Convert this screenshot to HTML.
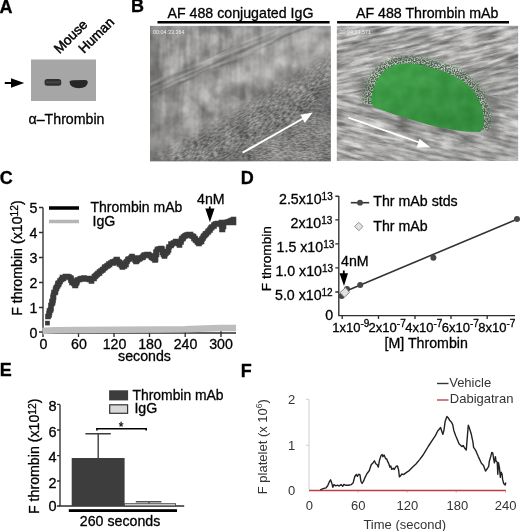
<!DOCTYPE html>
<html><head><meta charset="utf-8">
<style>
html,body{margin:0;padding:0;background:#fff;}
body{width:520px;height:531px;overflow:hidden;position:relative;font-family:"Liberation Sans",sans-serif;}
svg{position:absolute;left:0;top:0;filter:blur(0.35px);}
text{font-family:"Liberation Sans",sans-serif;stroke:#000;stroke-width:0.3px;}
text.n{stroke:none;}
text.h{stroke-width:0.5px;}
.L{font-weight:bold;font-size:18px;fill:#000;}
</style></head><body>
<svg width="520" height="531" viewBox="0 0 520 531">
<defs>
  <filter id="mot" x="0" y="0" width="100%" height="100%" color-interpolation-filters="sRGB">
    <feTurbulence type="fractalNoise" baseFrequency="0.06" numOctaves="3" seed="4"/>
    <feColorMatrix type="matrix" values="2 0 0 0 -0.5  2 0 0 0 -0.5  2 0 0 0 -0.5  0 0 0 0 1"/>
  </filter>
  <filter id="nz3" x="0" y="0" width="100%" height="100%" color-interpolation-filters="sRGB">
    <feTurbulence type="fractalNoise" baseFrequency="0.25 0.7" numOctaves="2" seed="9"/>
    <feColorMatrix type="matrix" values="2.5 0 0 0 -0.75  2.5 0 0 0 -0.75  2.5 0 0 0 -0.75  0 0 0 0 1"/>
  </filter>
  <filter id="nz4" x="0" y="0" width="100%" height="100%" color-interpolation-filters="sRGB">
    <feTurbulence type="fractalNoise" baseFrequency="0.08" numOctaves="2" seed="2"/>
    <feColorMatrix type="matrix" values="1 0 0 0 0  1 0 0 0 0  1 0 0 0 0  0 0 0 0 1"/>
    <feComposite operator="in" in2="SourceAlpha"/>
  </filter>
  
  <filter id="vst" x="0" y="0" width="100%" height="100%" color-interpolation-filters="sRGB">
    <feTurbulence type="fractalNoise" baseFrequency="0.16 0.025" numOctaves="2" seed="5"/>
    <feColorMatrix type="matrix" values="2 0 0 0 -0.5  2 0 0 0 -0.5  2 0 0 0 -0.5  0 0 0 0 1"/>
  </filter>
  <filter id="spk" x="0" y="0" width="100%" height="100%" color-interpolation-filters="sRGB">
    <feTurbulence type="fractalNoise" baseFrequency="0.7" numOctaves="1" seed="8"/>
    <feColorMatrix type="matrix" values="0 0 0 0 0.22  0 0 0 0 0.34  0 0 0 0 0.23  5 0 0 0 -2.0"/>
    <feComposite operator="in" in2="SourceAlpha"/>
  </filter>
  <filter id="spk2" x="0" y="0" width="100%" height="100%" color-interpolation-filters="sRGB">
    <feTurbulence type="fractalNoise" baseFrequency="0.7" numOctaves="1" seed="8"/>
    <feColorMatrix type="matrix" values="0 0 0 0 0.22  0 0 0 0 0.34  0 0 0 0 0.23  5 0 0 0 -2.0"/>
  </filter>
  <linearGradient id="mgTL" x1="0" y1="0" x2="1" y2="1">
    <stop offset="0" stop-color="#fff" stop-opacity="1"/>
    <stop offset="0.5" stop-color="#fff" stop-opacity="0.6"/>
    <stop offset="0.8" stop-color="#fff" stop-opacity="0"/>
  </linearGradient>
  <mask id="mkTL" maskContentUnits="objectBoundingBox"><rect x="0" y="0" width="1" height="1" fill="url(#mgTL)"/></mask>
  <filter id="bl12"><feGaussianBlur stdDeviation="1.1"/></filter>
  <filter id="bl1"><feGaussianBlur stdDeviation="0.7"/></filter>
  <filter id="bl6" x="-20%" y="-50%" width="140%" height="200%"><feGaussianBlur stdDeviation="7"/></filter>
  <linearGradient id="mg1" x1="0" y1="0" x2="0" y2="1">
    <stop offset="0" stop-color="#fff" stop-opacity="0"/>
    <stop offset="0.35" stop-color="#fff" stop-opacity="1"/>
    <stop offset="0.7" stop-color="#fff" stop-opacity="1"/>
    <stop offset="1" stop-color="#fff" stop-opacity="0"/>
  </linearGradient>
  <mask id="mkBR" maskUnits="userSpaceOnUse" x="140" y="50" width="200" height="120"><polygon points="205,170 345,88 345,170" fill="#fff" filter="url(#bl6)"/></mask>
  <mask id="mkHalo" maskUnits="userSpaceOnUse" x="340" y="35" width="170" height="115"><path d="M363,104 C363,86 369,74 378,66 C386,59 395,56 404,56 C418,55 430,59 440,62 C456,66 470,74 478,84 C487,95 491,108 491,120 C491,128 489,134 484,137 C468,136 455,133 440,129 C420,124 395,117 365,110 Z" fill="#fff" filter="url(#bl2)"/></mask>
  <mask id="mk1" maskContentUnits="objectBoundingBox"><rect x="0" y="0" width="1" height="1" fill="url(#mg1)"/></mask>
  <filter id="nz1" x="0" y="0" width="100%" height="100%" color-interpolation-filters="sRGB">
    <feTurbulence type="fractalNoise" baseFrequency="0.03 0.28" numOctaves="4" seed="7"/>
    <feColorMatrix type="matrix" values="1.6 0 0 0 -0.3  1.6 0 0 0 -0.3  1.6 0 0 0 -0.3  0 0 0 0 1"/>
  </filter>
  <filter id="nz2" x="0" y="0" width="100%" height="100%" color-interpolation-filters="sRGB">
    <feTurbulence type="fractalNoise" baseFrequency="0.045 0.3" numOctaves="4" seed="11"/>
    <feColorMatrix type="matrix" values="1.7 0 0 0 -0.2  1.7 0 0 0 -0.2  1.7 0 0 0 -0.2  0 0 0 0 1"/>
  </filter>
  <filter id="nz2b" x="0" y="0" width="100%" height="100%" color-interpolation-filters="sRGB">
    <feTurbulence type="fractalNoise" baseFrequency="0.045 0.3" numOctaves="4" seed="13"/>
    <feColorMatrix type="matrix" values="1.7 0 0 0 -0.2  1.7 0 0 0 -0.2  1.7 0 0 0 -0.2  0 0 0 0 1"/>
  </filter>
  <filter id="bl4"><feGaussianBlur stdDeviation="4"/></filter>
  <filter id="bl2"><feGaussianBlur stdDeviation="2"/></filter>
  <linearGradient id="gl1" x1="0" y1="0" x2="1" y2="0">
    <stop offset="0" stop-color="#555" stop-opacity="0.35"/>
    <stop offset="0.12" stop-color="#555" stop-opacity="0"/>
  </linearGradient>
  <linearGradient id="gl2" x1="0" y1="1" x2="0.6" y2="0">
    <stop offset="0.35" stop-color="#fff" stop-opacity="0"/>
    <stop offset="0.5" stop-color="#fff" stop-opacity="0.12"/>
    <stop offset="0.6" stop-color="#333" stop-opacity="0.15"/>
    <stop offset="0.75" stop-color="#fff" stop-opacity="0"/>
  </linearGradient>
  <linearGradient id="gg" x1="0.1" y1="0" x2="0.7" y2="1">
    <stop offset="0" stop-color="#3aa443"/>
    <stop offset="1" stop-color="#2c8c36"/>
  </linearGradient>
  <filter id="tex1" x="0" y="0" width="100%" height="100%">
    <feTurbulence type="fractalNoise" baseFrequency="0.12 0.35" numOctaves="3" seed="3" result="n"/>
    <feColorMatrix type="matrix" values="0.33 0.33 0.33 0 0  0.33 0.33 0.33 0 0  0.33 0.33 0.33 0 0  0 0 0 0 1" result="g"/>
  </filter>
</defs>

<!-- ================= Panel A ================= -->
<text class="L" x="-0.5" y="12.5">A</text>
<g font-size="13.6" fill="#000">
  <text class="h" transform="translate(59.5,54.2) rotate(-45)">Mouse</text>
  <text class="h" transform="translate(84,54) rotate(-45)">Human</text>
</g>
<rect x="31" y="59.5" width="65" height="41.5" fill="#a6a6a6"/>
<rect x="44.6" y="79" width="16.6" height="6.8" rx="2.5" fill="#303030"/>
<rect x="46" y="81.3" width="14" height="2" fill="#555" opacity="0.6"/>
<path d="M69.5,82 Q69.5,80.2 73,80.2 L85,80 Q88,80 87.8,82.5 Q87,88.2 79,88.2 Q70,88 69.5,82 Z" fill="#262626"/>
<line x1="4.8" y1="83" x2="12" y2="83" stroke="#000" stroke-width="2"/>
<polygon points="11,78.3 24.2,83 11,87.7" fill="#000"/>
<text x="28.5" y="123.5" font-size="14.2">α–Thrombin</text>

<!-- ================= Panel B ================= -->
<text class="L" x="131" y="12.3">B</text>
<text x="167.5" y="18" font-size="14.2">AF 488 conjugated IgG</text>
<text x="356" y="18" font-size="14.2">AF 488 Thrombin mAb</text>
<rect x="157.5" y="21" width="172.1" height="2.5" fill="#000"/>
<rect x="337.1" y="21" width="171.9" height="2.5" fill="#000"/>
<!-- left image -->
<clipPath id="cl"><rect x="150" y="25.8" width="180.8" height="135.4"/></clipPath>
<clipPath id="chalo"><polygon points="350,104 372,104 478,131 500,131 500,40 350,40"/></clipPath>
<clipPath id="cru"><polygon points="330,20 525,20 525,95 330,95"/></clipPath>
<clipPath id="crl"><polygon points="330,95 525,95 525,170 330,170"/></clipPath>
<clipPath id="cr"><rect x="336.8" y="25.8" width="181.3" height="135.2"/></clipPath>
<g clip-path="url(#cl)" style="stroke:none">
  <rect x="150" y="25.8" width="181" height="136" fill="#a2a19e"/>
  <rect x="150" y="25.8" width="181" height="136" filter="url(#mot)" opacity="0.25"/>
  <rect x="150" y="25.8" width="181" height="136" filter="url(#vst)" opacity="0.16" mask="url(#mkTL)"/>
  <!-- lighter top-right -->
  <polygon points="235,20 340,20 340,72 250,88" fill="#fff" opacity="0.13" filter="url(#bl6)"/>
  <!-- lighter band below striation -->
  <polygon points="140,108 300,40 330,40 150,128" fill="#fff" opacity="0.10" filter="url(#bl4)"/>
  <!-- dark lower-right -->
  <polygon points="200,170 340,80 340,170" fill="#4c4c4c" opacity="0.22" filter="url(#bl6)"/>
  <rect x="150" y="60" width="185" height="105" filter="url(#nz3)" opacity="0.18" mask="url(#mkBR)"/>
  <g transform="rotate(-30 268 112)">
    <rect x="140" y="96" width="270" height="40" fill="#4a4a4a" opacity="0.3" filter="url(#bl6)"/>
    <rect x="140" y="86" width="270" height="60" filter="url(#nz3)" opacity="0.25" mask="url(#mk1)"/>
  </g>
  <rect x="318" y="85" width="16" height="45" fill="#444" opacity="0.3" filter="url(#bl4)"/>
  <!-- striation band -->
  <g transform="rotate(-23.5 150 90)" filter="url(#bl12)" opacity="0.85">
    <rect x="120" y="84.5" width="240" height="1.4" fill="#e0e0e0" opacity="0.5"/>
    <rect x="120" y="86.3" width="240" height="1.8" fill="#5f5f5f" opacity="0.45"/>
    <rect x="120" y="88.6" width="240" height="1.2" fill="#e4e4e4" opacity="0.5"/>
    <rect x="120" y="90.2" width="240" height="2" fill="#5a5a5a" opacity="0.5"/>
    <rect x="120" y="92.7" width="240" height="1.3" fill="#d8d8d8" opacity="0.45"/>
    <rect x="120" y="94.3" width="240" height="1.5" fill="#666" opacity="0.35"/>
  </g>
  <g transform="rotate(-23.5 150 90)"><rect x="120" y="83" width="240" height="14" filter="url(#nz1)" opacity="0.22"/></g>
  <rect x="150" y="25.8" width="181" height="136" fill="url(#gl1)"/>
  <rect x="150" y="159.8" width="181" height="1.5" fill="#666" opacity="0.5"/>
  <line x1="242.6" y1="152.7" x2="303" y2="118.5" stroke="#fff" stroke-width="2"/>
  <polygon points="312.7,112.4 300.4,114.7 304.8,122.9" fill="#fff"/>
  <text class="n" x="153.1" y="34.3" font-size="5.4" fill="#f0f0f0">00:04:33.364</text>
</g>
<!-- right image -->
<g clip-path="url(#cr)" style="stroke:none">
  <rect x="336.8" y="25.8" width="182" height="136" fill="#bcbbb9"/>
  <rect x="336.8" y="25.8" width="182" height="136" filter="url(#mot)" opacity="0.18"/>
  <g clip-path="url(#cru)"><g transform="rotate(-12 428 93)"><rect x="300" y="-40" width="260" height="270" filter="url(#nz2)" opacity="0.42"/></g></g>
  <g clip-path="url(#crl)"><g transform="rotate(12 428 93)"><rect x="300" y="-40" width="260" height="270" filter="url(#nz2b)" opacity="0.42"/></g></g>
  <!-- dark arc band top-left -->
  <path d="M334,57 Q365,44 392,40 Q412,37 430,36" stroke="#666" stroke-width="7" fill="none" opacity="0.35" filter="url(#bl2)"/>
  <!-- dark diagonal top-right -->
  <path d="M462,76 L520,55" stroke="#555" stroke-width="3" fill="none" opacity="0.45" filter="url(#bl1)"/>
  <polygon points="462,78 520,58 520,100 480,100" fill="#666" opacity="0.18" filter="url(#bl4)"/>
  <!-- dark bottom right texture -->
  <polygon points="485,95 498,95 498,140 485,140" fill="#555" opacity="0.35" filter="url(#bl2)"/>
  <polygon points="380,150 520,135 520,165 380,165" fill="#777" opacity="0.15" filter="url(#bl4)"/>
  <!-- shadow under blob -->
  <path d="M358,111 C380,118 420,129 478,137" stroke="#4a4a4a" stroke-width="4" fill="none" opacity="0.5" filter="url(#bl2)"/>
  <!-- halo -->
  <g clip-path="url(#chalo)">
  <path d="M363,104 C363,86 369,74 378,66 C386,59 395,56 404,56 C418,55 430,59 440,62 C456,66 470,74 478,84 C487,95 491,108 491,120 C491,128 489,134 484,137 C468,136 455,133 440,129 C420,124 395,117 365,110 Z" fill="#b0bcad" opacity="0.45" filter="url(#bl2)"/>
  <rect x="350" y="40" width="150" height="105" fill="#000" filter="url(#spk2)" opacity="0.85" mask="url(#mkHalo)"/>
  </g>
  <path d="M371,102 C372,89 376,79 383,72 C389,66 396,64 404,63.5 C416,63 426,66 436,69 C450,73 462,79 471,88 C479,97 483,107 484,118 C484.5,124 483.5,129 480,132 C468,132 455,130.5 440,127.5 C420,123 395,114.5 374,107.5 Z" fill="url(#gg)"/>
  <path d="M371,102 C372,89 376,79 383,72 C389,66 396,64 404,63.5 C416,63 426,66 436,69 C450,73 462,79 471,88 C479,97 483,107 484,118 C484.5,124 483.5,129 480,132 C468,132 455,130.5 440,127.5 C420,123 395,114.5 374,107.5 Z" filter="url(#nz4)" opacity="0.1"/>
  <line x1="348.4" y1="117.6" x2="422" y2="143.5" stroke="#fff" stroke-width="1.8"/>
  <polygon points="430.6,147.4 419.5,138.8 416.6,147.6" fill="#fff"/>
  <text class="n" x="339.5" y="34.3" font-size="5.4" fill="#f0f0f0">00:04:33.571</text>
</g>

<!-- ================= Panel C ================= -->
<text class="L" x="-0.3" y="183.8">C</text>
<g stroke="#2e2e2e" stroke-width="1.35" fill="none">
  <path d="M43,207.5 V337 M43,333 H236"/>
  <path d="M39,207.5 H43 M39,232.5 H43 M39,257.5 H43 M39,282.5 H43 M39,307.5 H43 M39,332 H43"/>
  <path d="M78.5,331 V337 M114,331 V337 M149.5,331 V337 M185.2,331 V337 M221,331 V337"/>
</g>
<g font-size="14.2" text-anchor="end">
  <text x="37.3" y="212.8">5</text>
  <text x="37.3" y="237.8">4</text>
  <text x="37.3" y="262.8">3</text>
  <text x="37.3" y="287.8">2</text>
  <text x="37.3" y="312.8">1</text>
  <text x="37.3" y="337.5">0</text>
</g>
<g font-size="14.2" text-anchor="middle">
  <text x="43.5" y="349">0</text>
  <text x="79" y="349">60</text>
  <text x="114.5" y="349">120</text>
  <text x="150" y="349">180</text>
  <text x="185.5" y="349">240</text>
  <text x="221" y="349">300</text>
  <text x="144.5" y="361">seconds</text>
</g>
<text transform="translate(21.5,315.8) rotate(-90)" font-size="14.2">F thrombin (x10<tspan font-size="10.2" dy="-3.8">12</tspan><tspan dy="3.8">)</tspan></text>
<!-- legend -->
<line x1="49" y1="208" x2="79" y2="208" stroke="#000" stroke-width="3.5"/>
<line x1="49" y1="221.5" x2="79" y2="221.5" stroke="#b5b5b5" stroke-width="3.5"/>
<text x="90.5" y="212.3" font-size="14">Thrombin mAb</text>
<text x="92.5" y="225.8" font-size="14.2">IgG</text>
<!-- IgG trace -->
<path d="M42.5,331 C46,330.6 50,330.2 56,330.2 L80,330 L120,329.8 L160,329.5 L185,329.3 L205,328.5 L220,328 L236,328" stroke="#bdbdbd" stroke-width="6.5" fill="none"/>
<!-- mAb trace -->
<rect x="45.1" y="320.8" width="4.7" height="4.6" fill="#3a3a3a"/>
<path fill="#3a3a3a" d="M45.2 313.7h5.6v5.6h-5.6zM46.2 312.2h5.6v5.6h-5.6zM46.7 309.7h5.6v5.6h-5.6zM46.2 310.7h5.6v5.6h-5.6zM46.7 308.2h5.6v5.6h-5.6zM47.7 307.2h5.6v5.6h-5.6zM48.2 305.7h5.6v5.6h-5.6zM48.2 303.7h5.6v5.6h-5.6zM48.2 304.7h5.6v5.6h-5.6zM48.2 302.7h5.6v5.6h-5.6zM49.2 300.7h5.6v5.6h-5.6zM49.7 299.7h5.6v5.6h-5.6zM49.2 298.7h5.6v5.6h-5.6zM50.2 297.7h5.6v5.6h-5.6zM50.2 296.2h5.6v5.6h-5.6zM50.7 294.7h5.6v5.6h-5.6zM50.2 294.7h5.6v5.6h-5.6zM50.7 292.7h5.6v5.6h-5.6zM52.2 289.7h5.6v5.6h-5.6zM51.2 289.7h5.6v5.6h-5.6zM52.7 288.7h5.6v5.6h-5.6zM52.7 287.2h5.6v5.6h-5.6zM53.2 285.7h5.6v5.6h-5.6zM53.7 284.7h5.6v5.6h-5.6zM53.7 285.2h5.6v5.6h-5.6zM54.7 283.2h5.6v5.6h-5.6zM55.7 281.7h5.6v5.6h-5.6zM55.2 280.7h5.6v5.6h-5.6zM56.2 280.2h5.6v5.6h-5.6zM57.2 278.7h5.6v5.6h-5.6zM57.2 278.2h5.6v5.6h-5.6zM58.7 276.7h5.6v5.6h-5.6zM59.7 274.7h5.6v5.6h-5.6zM60.2 275.7h5.6v5.6h-5.6zM60.7 275.2h5.6v5.6h-5.6zM62.7 273.7h5.6v5.6h-5.6zM64.2 274.2h5.6v5.6h-5.6zM64.7 273.7h5.6v5.6h-5.6zM66.2 274.2h5.6v5.6h-5.6zM67.7 275.2h5.6v5.6h-5.6zM68.2 275.7h5.6v5.6h-5.6zM68.2 277.2h5.6v5.6h-5.6zM68.7 277.7h5.6v5.6h-5.6zM69.7 279.2h5.6v5.6h-5.6zM69.2 279.7h5.6v5.6h-5.6zM71.2 280.7h5.6v5.6h-5.6zM72.2 282.7h5.6v5.6h-5.6zM72.7 282.7h5.6v5.6h-5.6zM73.7 280.2h5.6v5.6h-5.6zM74.2 278.7h5.6v5.6h-5.6zM74.7 277.2h5.6v5.6h-5.6zM76.7 276.7h5.6v5.6h-5.6zM77.7 276.2h5.6v5.6h-5.6zM78.7 275.7h5.6v5.6h-5.6zM79.7 275.7h5.6v5.6h-5.6zM81.2 275.2h5.6v5.6h-5.6zM83.2 276.2h5.6v5.6h-5.6zM84.7 276.2h5.6v5.6h-5.6zM85.2 275.7h5.6v5.6h-5.6zM86.7 276.7h5.6v5.6h-5.6zM88.7 277.7h5.6v5.6h-5.6zM88.7 278.2h5.6v5.6h-5.6zM89.2 275.7h5.6v5.6h-5.6zM91.2 275.7h5.6v5.6h-5.6zM91.7 273.7h5.6v5.6h-5.6zM92.2 273.7h5.6v5.6h-5.6zM93.2 272.7h5.6v5.6h-5.6zM94.2 271.7h5.6v5.6h-5.6zM95.2 270.7h5.6v5.6h-5.6zM96.7 269.2h5.6v5.6h-5.6zM96.7 270.2h5.6v5.6h-5.6zM98.2 268.2h5.6v5.6h-5.6zM100.2 266.7h5.6v5.6h-5.6zM99.7 267.2h5.6v5.6h-5.6zM101.7 265.2h5.6v5.6h-5.6zM102.2 264.2h5.6v5.6h-5.6zM102.7 264.2h5.6v5.6h-5.6zM104.2 263.2h5.6v5.6h-5.6zM105.2 262.7h5.6v5.6h-5.6zM106.7 261.7h5.6v5.6h-5.6zM106.2 261.2h5.6v5.6h-5.6zM108.2 260.2h5.6v5.6h-5.6zM110.7 260.2h5.6v5.6h-5.6zM109.7 259.2h5.6v5.6h-5.6zM111.7 258.7h5.6v5.6h-5.6zM113.2 257.7h5.6v5.6h-5.6zM113.7 256.7h5.6v5.6h-5.6zM114.2 256.7h5.6v5.6h-5.6zM114.7 258.2h5.6v5.6h-5.6zM116.2 259.2h5.6v5.6h-5.6zM117.2 260.2h5.6v5.6h-5.6zM116.7 261.2h5.6v5.6h-5.6zM118.7 262.7h5.6v5.6h-5.6zM119.7 264.2h5.6v5.6h-5.6zM120.2 263.2h5.6v5.6h-5.6zM121.7 263.2h5.6v5.6h-5.6zM123.2 261.7h5.6v5.6h-5.6zM122.7 261.2h5.6v5.6h-5.6zM123.2 259.7h5.6v5.6h-5.6zM124.2 258.7h5.6v5.6h-5.6zM125.2 256.7h5.6v5.6h-5.6zM126.2 256.2h5.6v5.6h-5.6zM128.2 255.2h5.6v5.6h-5.6zM129.2 254.2h5.6v5.6h-5.6zM129.2 253.7h5.6v5.6h-5.6zM131.2 255.2h5.6v5.6h-5.6zM132.2 257.2h5.6v5.6h-5.6zM133.7 258.2h5.6v5.6h-5.6zM133.2 258.7h5.6v5.6h-5.6zM134.7 257.2h5.6v5.6h-5.6zM136.2 255.2h5.6v5.6h-5.6zM136.2 256.2h5.6v5.6h-5.6zM137.2 255.7h5.6v5.6h-5.6zM139.2 254.7h5.6v5.6h-5.6zM140.7 253.2h5.6v5.6h-5.6zM140.2 254.2h5.6v5.6h-5.6zM141.7 252.2h5.6v5.6h-5.6zM144.2 251.7h5.6v5.6h-5.6zM145.7 251.7h5.6v5.6h-5.6zM146.7 252.7h5.6v5.6h-5.6zM148.2 253.2h5.6v5.6h-5.6zM148.7 254.2h5.6v5.6h-5.6zM149.2 254.7h5.6v5.6h-5.6zM150.7 255.7h5.6v5.6h-5.6zM152.2 257.2h5.6v5.6h-5.6zM152.7 256.7h5.6v5.6h-5.6zM152.2 254.7h5.6v5.6h-5.6zM152.7 253.7h5.6v5.6h-5.6zM153.7 251.7h5.6v5.6h-5.6zM153.2 249.7h5.6v5.6h-5.6zM153.7 248.7h5.6v5.6h-5.6zM154.7 246.7h5.6v5.6h-5.6zM156.2 246.2h5.6v5.6h-5.6zM158.7 245.7h5.6v5.6h-5.6zM158.2 245.7h5.6v5.6h-5.6zM159.2 246.7h5.6v5.6h-5.6zM159.7 248.7h5.6v5.6h-5.6zM159.7 249.7h5.6v5.6h-5.6zM160.7 251.7h5.6v5.6h-5.6zM161.7 252.7h5.6v5.6h-5.6zM161.7 253.2h5.6v5.6h-5.6zM162.2 251.2h5.6v5.6h-5.6zM163.2 250.2h5.6v5.6h-5.6zM164.7 249.2h5.6v5.6h-5.6zM164.7 248.7h5.6v5.6h-5.6zM165.7 247.2h5.6v5.6h-5.6zM165.7 246.2h5.6v5.6h-5.6zM166.2 244.2h5.6v5.6h-5.6zM168.2 242.7h5.6v5.6h-5.6zM168.2 241.2h5.6v5.6h-5.6zM168.7 241.2h5.6v5.6h-5.6zM169.2 241.2h5.6v5.6h-5.6zM170.7 240.2h5.6v5.6h-5.6zM172.7 239.2h5.6v5.6h-5.6zM173.2 238.7h5.6v5.6h-5.6zM174.2 239.2h5.6v5.6h-5.6zM175.7 240.7h5.6v5.6h-5.6zM176.7 241.2h5.6v5.6h-5.6zM176.7 242.2h5.6v5.6h-5.6zM176.7 239.7h5.6v5.6h-5.6zM178.2 239.2h5.6v5.6h-5.6zM178.7 236.7h5.6v5.6h-5.6zM179.2 235.7h5.6v5.6h-5.6zM180.2 235.7h5.6v5.6h-5.6zM180.7 234.2h5.6v5.6h-5.6zM182.2 233.2h5.6v5.6h-5.6zM183.2 232.7h5.6v5.6h-5.6zM184.2 232.2h5.6v5.6h-5.6zM185.7 231.7h5.6v5.6h-5.6zM187.7 231.7h5.6v5.6h-5.6zM189.2 233.2h5.6v5.6h-5.6zM190.7 233.7h5.6v5.6h-5.6zM191.2 235.7h5.6v5.6h-5.6zM192.2 235.7h5.6v5.6h-5.6zM192.7 237.2h5.6v5.6h-5.6zM193.7 237.7h5.6v5.6h-5.6zM194.7 239.2h5.6v5.6h-5.6zM195.7 239.7h5.6v5.6h-5.6zM196.2 240.7h5.6v5.6h-5.6zM197.2 239.2h5.6v5.6h-5.6zM198.7 238.7h5.6v5.6h-5.6zM198.7 237.7h5.6v5.6h-5.6zM199.2 236.2h5.6v5.6h-5.6zM200.2 235.2h5.6v5.6h-5.6zM200.7 233.7h5.6v5.6h-5.6zM201.7 232.7h5.6v5.6h-5.6zM202.7 231.7h5.6v5.6h-5.6zM202.7 231.2h5.6v5.6h-5.6zM203.7 230.7h5.6v5.6h-5.6zM205.2 229.2h5.6v5.6h-5.6zM205.7 228.2h5.6v5.6h-5.6zM207.2 226.7h5.6v5.6h-5.6zM207.2 227.2h5.6v5.6h-5.6zM208.2 225.2h5.6v5.6h-5.6zM209.2 224.2h5.6v5.6h-5.6zM211.2 223.2h5.6v5.6h-5.6zM211.2 222.2h5.6v5.6h-5.6zM212.7 221.2h5.6v5.6h-5.6zM214.7 220.7h5.6v5.6h-5.6zM215.2 221.2h5.6v5.6h-5.6zM216.7 220.7h5.6v5.6h-5.6zM218.7 220.2h5.6v5.6h-5.6zM218.7 219.7h5.6v5.6h-5.6zM218.7 222.2h5.6v5.6h-5.6zM219.2 223.2h5.6v5.6h-5.6zM219.7 225.2h5.6v5.6h-5.6zM219.2 226.7h5.6v5.6h-5.6zM219.7 226.7h5.6v5.6h-5.6zM220.7 223.7h5.6v5.6h-5.6zM220.7 221.7h5.6v5.6h-5.6zM220.7 220.7h5.6v5.6h-5.6zM220.2 221.2h5.6v5.6h-5.6zM222.7 219.7h5.6v5.6h-5.6zM224.2 219.7h5.6v5.6h-5.6zM225.2 219.7h5.6v5.6h-5.6zM224.7 219.2h5.6v5.6h-5.6zM226.7 218.7h5.6v5.6h-5.6zM228.2 218.2h5.6v5.6h-5.6zM228.7 217.7h5.6v5.6h-5.6zM230.7 216.7h5.6v5.6h-5.6zM230.7 219.7h5.6v5.6h-5.6z"/>
<!-- 4nM -->
<text x="197" y="203.5" font-size="14.2">4nM</text>
<line x1="209.8" y1="206.5" x2="209.8" y2="210" stroke="#000" stroke-width="1.8"/>
<polygon points="205.3,208.6 214.5,208.6 209.9,222.2" fill="#000"/>

<!-- ================= Panel D ================= -->
<text class="L" x="240.7" y="183.6">D</text>
<g stroke="#2e2e2e" stroke-width="1.35" fill="none">
  <path d="M338.8,196 V315.6 H515"/>
  <path d="M335.3,196.2 H338.8 M335.3,219.8 H338.8 M335.3,243.8 H338.8 M335.3,267.8 H338.8 M335.3,292 H338.8"/>
  <path d="M342.2,315.6 V319 M378.5,315.6 V319 M415,315.6 V319 M451,315.6 V319 M487.2,315.6 V319"/>
</g>
<g font-size="14.2">
  <text x="279" y="204.4">2.5x10<tspan font-size="10" dy="-4">13</tspan></text>
  <text x="290.5" y="227.9">2x10<tspan font-size="10" dy="-4">13</tspan></text>
  <text x="276.6" y="251.6">1.5 x10<tspan font-size="10" dy="-4">13</tspan></text>
  <text x="275.4" y="275.9">1.0 x10<tspan font-size="10" dy="-4">13</tspan></text>
  <text x="275" y="300.2">5.0 x10<tspan font-size="10" dy="-4">12</tspan></text>
  <text x="325.3" y="320.4">0</text>
</g>
<g font-size="13">
  <text x="332.3" y="331.7">1x10<tspan font-size="10" dy="-5">-9</tspan></text>
  <text x="368.6" y="331.7">2x10<tspan font-size="10" dy="-5">-7</tspan></text>
  <text x="405.3" y="331.7">4x10<tspan font-size="10" dy="-5">-7</tspan></text>
  <text x="441.8" y="331.7">6x10<tspan font-size="10" dy="-5">-7</tspan></text>
  <text x="478.3" y="331.7">8x10<tspan font-size="10" dy="-5">-7</tspan></text>
</g>
<text x="384.5" y="347.8" font-size="14.2">[M] Thrombin</text>
<text transform="translate(271.3,291.2) rotate(-90)" font-size="13.6">F thrombin</text>
<!-- line & points -->
<line x1="341.4" y1="293" x2="517" y2="219.2" stroke="#333" stroke-width="1.6"/>
<g fill="#474747">
  <circle cx="341.6" cy="296" r="3"/>
  <circle cx="347" cy="289" r="3"/>
  <circle cx="360.2" cy="285" r="3"/>
  <circle cx="433.4" cy="257.8" r="3"/>
  <circle cx="517" cy="219.1" r="3"/>
</g>
<polygon points="345.5,287.6 349.5,292.4 344.4,297.3 340,292.6" fill="#e2e2e2" stroke="#777" stroke-width="0.9"/>
<!-- legend -->
<line x1="350.8" y1="202.7" x2="369.2" y2="202.7" stroke="#333" stroke-width="1.6"/>
<circle cx="360" cy="202.7" r="2.9" fill="#474747"/>
<text x="373.3" y="206.2" font-size="14.2">Thr mAb stds</text>
<polygon points="358.8,222.3 363,226.5 358.8,230.7 354.6,226.5" fill="#e2e2e2" stroke="#888" stroke-width="0.9"/>
<text x="373.3" y="231.1" font-size="14.2">Thr mAb</text>
<!-- 4nM -->
<text x="341" y="265.6" font-size="14.2">4nM</text>
<line x1="343.8" y1="270.5" x2="343.8" y2="274" stroke="#000" stroke-width="1.8"/>
<polygon points="339.5,273.2 348,273.2 344,285.9" fill="#000"/>

<!-- ================= Panel E ================= -->
<text class="L" x="-0.3" y="376">E</text>
<g stroke="#2e2e2e" stroke-width="1.35" fill="none">
  <path d="M60,404.4 V506 H184.2"/>
  <path d="M57,404.4 H60 M57,430 H60 M57,455.6 H60 M57,481 H60 M57,506 H60"/>
</g>
<g font-size="14.5" text-anchor="end">
  <text x="56.6" y="411">8</text>
  <text x="56.6" y="436.5">6</text>
  <text x="56.6" y="462">4</text>
  <text x="56.6" y="487.5">2</text>
  <text x="56.6" y="511">0</text>
</g>
<text transform="translate(39.3,514) rotate(-90)" font-size="14.2">F thrombin (x10<tspan font-size="10.2" dy="-3.8">12</tspan><tspan dy="3.8">)</tspan></text>
<!-- bars -->
<rect x="71.7" y="458" width="52.9" height="48" fill="#3d3d3d"/>
<path d="M98.2,458 V433.8 M85.4,433.8 H110.8" stroke="#3d3d3d" stroke-width="1.4" fill="none"/>
<rect x="124.6" y="503.7" width="51" height="2.2" fill="#d8d8d8" stroke="#3d3d3d" stroke-width="0.8"/>
<path d="M149,503.7 V501.8 M135.8,501.8 H161.4" stroke="#555" stroke-width="1.5" fill="none"/>
<path d="M96.9,430.5 V428.8 H146.2 V430.5" stroke="#000" stroke-width="1.6" fill="none"/>
<text x="121.2" y="431" font-size="12" text-anchor="middle">*</text>
<rect x="68.8" y="509.2" width="108.2" height="2.8" fill="#000"/>
<text x="79.8" y="526.2" font-size="14.2">260 seconds</text>
<!-- legend -->
<rect x="109.1" y="390.3" width="19" height="10.1" fill="#3d3d3d"/>
<rect x="109.7" y="404.8" width="17.9" height="8.5" fill="#d8d8d8" stroke="#333" stroke-width="1.2"/>
<text x="132.5" y="400" font-size="13.9">Thrombin mAb</text>
<text x="134.4" y="412.9" font-size="14.2">IgG</text>

<!-- ================= Panel F ================= -->
<text class="L" x="240.7" y="376.7">F</text>
<g stroke="#cfcfcf" stroke-width="1" fill="none">
  <path d="M309,399.3 V490"/>
  <path d="M306,399.3 H309 M306,445.3 H309"/>
  <path d="M358,490 V493 M407,490 V493 M456.2,490 V493 M505.5,490 V493"/>
</g>
<g font-size="13" fill="#333" style="stroke:none">
  <g text-anchor="end">
    <text class="n" x="295.3" y="404.1">2</text>
    <text class="n" x="295.3" y="449.6">1</text>
    <text class="n" x="295.3" y="494.6">0</text>
  </g>
  <g text-anchor="middle">
    <text class="n" x="309.3" y="510.4">0</text>
    <text class="n" x="358.3" y="510.4">60</text>
    <text class="n" x="407.3" y="510.4">120</text>
    <text class="n" x="457.3" y="510.4">180</text>
    <text class="n" x="505.6" y="510.4">240</text>
  </g>
  <text class="n" x="363.4" y="528.5">Time (second)</text>
  <text class="n" transform="translate(266.8,494.2) rotate(-90)">F platelet  (x 10<tspan font-size="8.5" dy="-5">6</tspan><tspan dy="5">)</tspan></text>
  <text class="n" x="449.2" y="387.3">Vehicle</text>
  <text class="n" x="449.8" y="403.3">Dabigatran</text>
</g>
<line x1="309" y1="490.5" x2="505.8" y2="490.5" stroke="#c23a44" stroke-width="1.6"/>
<polyline fill="none" stroke="#222" stroke-width="1.4" stroke-linejoin="round" points="320.2,489.8 323.1,488.7 326,487.8 327.7,485.8 329.4,481.7 330.6,479.8 331.7,482.9 332.9,487.2 334,484.6 335.8,485.8 337.5,485.2 339.2,486 341,484.6 342.7,486.3 343.8,484.4 345.6,485.2 348.5,485.2 351.3,484.6 353.1,482.9 354.8,476.5 356.3,474.5 357.5,476.3 358.6,474.2 360,474.8 360.9,481.2 362.1,483.5 363.5,481.2 365.2,477.1 366.9,473.7 369.2,470.8 370.5,467 371.2,464.8 372.9,463.1 374.4,460.8 375.8,463.7 377.2,464.8 378.3,467.1 379.5,460.2 381,455.6 382.1,454.4 382.9,456.7 384.1,455 385.6,458.5 386.7,459 387.9,461.9 389,464.2 389.8,467.1 390.8,466 391.7,469.4 393.1,468.3 394.2,469.4 396,466.5 397.5,466 398.6,470 399.4,476.9 400.6,475.8 401.7,474 403.5,474.6 405.8,472.9 409.2,470.6 412.7,467.1 416.2,463.7 419.6,459.6 423.1,455 425,451.8 428.5,446 431.9,440.8 435.4,435.6 437.7,431 438.8,429.8 440.6,427.5 441.7,431 442.9,434.4 444,429.8 445.2,421.2 446.9,416.5 448.1,417.7 449.8,420.6 451.5,422.3 452.7,424.6 453.8,430.4 455.6,435.6 457.3,439.6 459,443.7 460.8,445.4 461.9,446.5 463.1,445.4 464.8,448.3 466.3,450 467.1,439.6 468.3,425.2 469.4,428.1 471.2,433.8 472.9,441.9 473.6,447.3 475.7,450.4 478.3,456.6 481.4,463.3 483.5,465.4 485.5,471.1 487.1,469 488.7,466.4 489.2,461.8 490.7,456.6 491.8,452.4 492.8,453 493.6,458.7 494.4,462.8 495.4,456.6 495.9,460.7 497.2,462.3 497.8,474.2 498.5,462.8 499.5,468 500.3,477.3 501.1,472.1 502.1,474.2 502.6,479.4 503.7,483.5 505.2,485.1 505.8,482.5"/>
<line x1="437" y1="383.5" x2="448.5" y2="383.5" stroke="#333" stroke-width="1.4"/>
<line x1="437" y1="400" x2="448.5" y2="400" stroke="#b23540" stroke-width="1.3"/>
</svg>
</body></html>
